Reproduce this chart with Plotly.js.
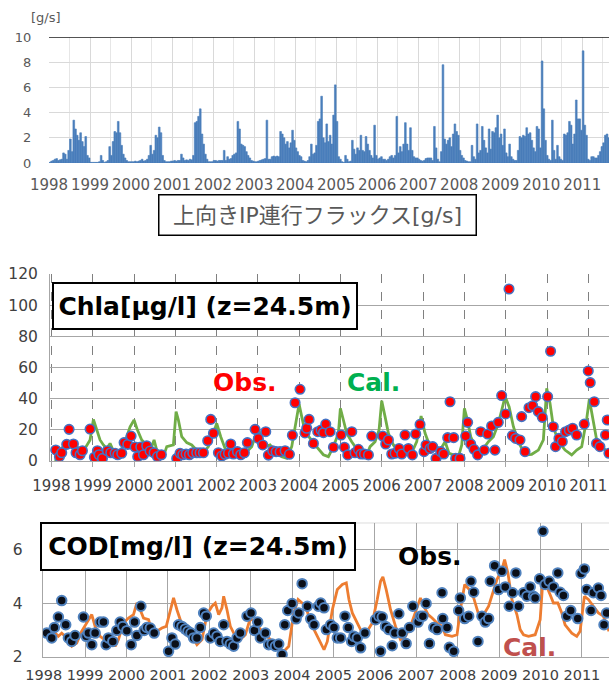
<!DOCTYPE html>
<html><head><meta charset="utf-8">
<script src="https://cdn.plot.ly/plotly-3.0.1.min.js"></script>
<style>html,body{margin:0;padding:0;background:#fff}#chart{width:609px;height:687px}</style>
</head><body><div id="chart"></div>
<script>
// ---------- data ----------
const years = [1998,1999,2000,2001,2002,2003,2004,2005,2006,2007,2008,2009,2010,2011];
const yearLabels = years.map(String);

// upward IP entrainment flux [g/s], half-monthly values per year
const flux1998 = [0.05,0.15,0.2,0.3,0.35,0.2,0.25,0.3,0.8,0.7,0.3,1.0,1.9,0.9,3.4,2.7,2.2,1.8,2.4,1.7,1.3,2.1,0.6,0.4];
const flux1999 = [0.05,0.05,0.05,0.05,0.05,0.1,0.6,0.2,0.05,0.1,0.2,1.3,0.6,1.7,2.5,2.4,3.3,2.4,1.4,0.7,0.4,0.2,0.1,0.1];
const flux2000 = [0.1,0.1,0.15,0.1,0.15,0.2,0.3,0.15,0.2,0.3,0.6,1.4,0.7,1.0,2.2,2.0,2.85,2.4,0.6,0.2,0.1,0.1,0.1,0.15];
const flux2001 = [0.15,0.2,0.15,0.2,0.2,0.7,0.4,0.2,0.25,0.2,0.3,0.25,0.6,3.2,3.3,3.7,4.3,2.3,1.5,0.7,0.3,0.1,0.1,0.1];
const flux2002 = [0.2,0.2,0.15,0.2,0.2,0.2,1.0,0.2,0.5,0.3,0.35,0.6,0.7,0.8,3.3,2.7,1.5,1.4,1.3,0.9,0.6,0.4,0.2,0.15];
const flux2003 = [0.1,0.1,0.15,0.2,0.25,0.3,0.35,3.4,0.3,0.3,0.5,0.55,0.5,0.55,0.5,2.5,2.3,2.0,1.5,1.7,1.2,1.6,2.6,1.8];
const flux2004 = [1.2,0.9,0.6,0.5,0.2,0.15,0.1,0.2,0.5,1.5,0.7,0.8,1.4,3.3,3.5,5.3,2.0,1.6,3.1,1.7,2.2,1.5,3.8,6.2];
const flux2005 = [3.3,0.5,0.3,0.1,0.05,0.6,0.3,0.1,0.15,1.8,1.1,0.7,1.2,1.0,2.2,1.0,0.9,2.1,1.5,1.0,0.6,0.4,3.0,0.6];
const flux2006 = [0.3,0.4,0.5,0.3,0.3,0.2,0.3,0.5,0.6,0.4,0.6,3.7,0.8,1.3,0.9,1.5,3.2,1.5,1.0,2.8,1.0,0.5,0.4,0.4];
const flux2007 = [0.3,0.2,0.15,0.2,0.35,0.4,0.4,0.4,0.2,2.9,1.2,0.3,0.1,0.9,7.8,1.9,1.5,1.8,2.0,1.3,2.3,3.1,2.5,2.2];
const flux2008 = [1.0,0.6,0.4,0.2,0.15,0.1,0.1,1.4,0.5,0.3,3.1,0.8,1.0,2.9,1.8,1.2,0.8,2.7,1.1,2.5,2.4,2.8,3.8,2.0];
const flux2009 = [2.3,1.4,2.7,0.8,0.5,1.5,0.5,0.3,0.2,0.2,1.0,2.1,2.0,2.2,2.1,2.8,2.3,2.4,1.8,1.2,0.9,2.9,2.7,1.2];
const flux2010 = [8.1,4.3,1.8,0.6,0.3,0.2,3.4,1.0,0.3,1.4,0.5,0.3,0.2,2.3,2.2,2.4,3.3,3.0,1.5,2.3,5.0,3.5,3.5,2.6];
const flux2011 = [8.9,3.0,2.2,0.3,0.2,0.5,0.5,0.4,0.4,0.6,0.9,1.3,1.6,2.2,2.3,2.0];

// Chla observed (decimal year, ug/l)
const chlaObsT = [1998.105,1998.194,1998.25,1998.371,1998.428,1998.533,1998.597,1998.694,1998.751,1998.936,
  1999.041,1999.114,1999.154,1999.235,1999.356,1999.437,1999.542,1999.606,1999.703,1999.760,1999.848,1999.929,
  2000.026,2000.090,2000.163,2000.228,2000.308,2000.389,2000.486,2000.567,2000.663,
  2001.035,2001.115,2001.18,2001.261,2001.341,2001.422,2001.519,2001.600,2001.680,2001.785,2001.858,2001.923,
  2002.044,2002.124,2002.205,2002.286,2002.342,2002.407,2002.504,2002.584,2002.673,2002.745,2002.931,
  2003.011,2003.117,2003.19,2003.254,2003.358,2003.44,2003.537,2003.658,2003.763,2003.835,2003.9,2004.02,
  2004.14,2004.182,2004.239,2004.344,2004.449,2004.53,2004.586,2004.643,2004.748,2004.829,
  2005.014,2005.095,2005.176,2005.273,2005.353,2005.434,2005.499,2005.579,2005.676,2005.757,
  2006.023,2006.095,2006.16,2006.241,2006.321,2006.418,2006.483,2006.563,2006.644,2006.741,2006.821,2006.926,
  2007.023,2007.072,2007.168,2007.233,2007.313,2007.426,2007.499,2007.596,2007.652,2007.741,2007.789,2007.894,
  2008.031,2008.079,2008.152,2008.232,2008.321,2008.394,2008.482,2008.563,2008.659,2008.74,2008.821,2008.902,
  2008.999,2009.08,2009.161,2009.241,2009.346,2009.386,2009.467,2009.564,2009.653,2009.725,2009.789,2009.886,
  2010.015,2010.087,2010.152,2010.208,2010.289,2010.37,2010.45,2010.539,2010.62,2010.717,2010.902,
  2010.999,2011.047,2011.144,2011.2,2011.281,2011.418,2011.459,2011.499];
const chlaObsV = [7.1,2.8,5.3,10.7,20.3,10.9,5.3,4,6.6,20.5,
  2.4,6.6,4,1.7,6.6,5.3,5,4,5,11.8,10.7,16,
  9,2.8,9,4,9.8,6.4,5.3,2.8,4,
  1.7,5,4,4.5,4,5.3,5.3,5.3,5.3,13,26.7,17.8,
  5.3,3.2,4.3,5,10.9,4.5,6,4,5.3,11.8,20.3,
  14.5,10.3,18.8,3.8,6.6,6,6,6.6,4.3,16.5,37.4,46,
  18,21,26.7,11.3,18.8,19.9,18.2,23.7,18.8,8.8,
  16.7,8.8,3.9,18.8,5.3,7.5,4.5,4.5,3.9,16,
  16,10.9,13.5,4.5,5,8,4.5,16.7,8,3.9,17.3,23.5,
  6,10.3,8,9.2,1.7,6,4.5,15,38,15,1.7,1.7,
  16,24.8,10.9,7.5,3.9,18.8,7,17.3,22.5,7,24.8,42,
  30.2,110.4,16.3,14.5,13.5,28.5,6,34.2,35.5,41.3,31.7,28,
  41.3,70.4,22,9.2,14.5,12.4,18.8,19.9,21,16.7,23.7,
  57.8,50.3,38,11.3,9.2,16.7,26.3,5];

// Chla calculated
const chlaCalT = [1998.089,1998.17,1998.25,1998.331,1998.412,1998.492,1998.613,1998.734,1998.839,1998.936,
  1999.017,1999.098,1999.178,1999.259,1999.34,1999.42,1999.501,1999.582,1999.663,1999.784,1999.905,
  2000.002,2000.082,2000.187,2000.308,2000.429,2000.486,2000.55,2000.631,2000.712,2000.793,2000.954,
  2001.019,2001.075,2001.156,2001.277,2001.398,2001.479,2001.559,2001.68,2001.801,2001.923,
  2002.003,2002.1,2002.205,2002.326,2002.447,2002.568,2002.729,2002.85,2002.931,
  2003.011,2003.092,2003.174,2003.295,2003.375,2003.456,2003.577,2003.698,2003.819,2003.94,2003.997,
  2004.061,2004.142,2004.384,2004.585,2004.707,2004.828,2004.949,2004.997,
  2005.07,2005.15,2005.271,2005.353,2005.474,2005.635,2005.716,2005.837,2005.934,2005.998,
  2006.079,2006.16,2006.281,2006.402,2006.563,2006.725,2006.846,2006.951,
  2007.048,2007.169,2007.29,2007.411,2007.533,2007.63,2007.735,2007.856,2007.936,
  2008.0,2008.073,2008.154,2008.259,2008.339,2008.46,2008.581,2008.702,2008.823,2008.904,2008.985,
  2009.082,2009.187,2009.308,2009.467,2009.63,2009.791,2009.912,2009.993,
  2010.073,2010.154,2010.275,2010.437,2010.598,2010.719,2010.84,2010.961,
  2011.025,2011.098,2011.203,2011.324,2011.445,2011.501];
const chlaCalV = [0,2.8,8,11,11.3,12.4,9.2,6.6,9.2,13.5,
  26.7,20,13.5,10.3,8,11.3,6.6,5,6,12.4,22,
  26.3,20,13.5,10.3,9.2,13.5,7,6,2.8,9.2,10.3,
  31.7,26.3,15.6,11.8,10.3,8,6,5.3,9.2,17.8,
  24.2,15.6,8,5.3,4.3,5,6,9.2,15.6,
  20,14.5,9.2,10.3,8,5,2.8,1.7,9.2,26.3,36.6,
  28.5,18.8,10.3,4,2.8,9.2,17.8,33.8,
  26.3,17.8,12.4,9.2,6,3.9,9.2,12.4,19.9,38.7,
  28.5,17.8,10.3,6,3.9,5.3,12.4,28.9,
  17.8,9.2,10.3,7,12.4,4.9,3.9,2.8,10.3,
  33.8,26.3,15.6,9.2,7,8,12.4,15.6,24.2,32.7,41.3,
  34.9,22,12.4,3.9,4.3,7,13.5,46.6,
  37,22,12.4,7,3.9,7,9.2,27,
  39.6,28.5,13.5,9.2,6,5];

// COD observed (decimal year, mg/l)
const codObsT = [1998.073,1998.194,1998.258,1998.355,1998.435,1998.532,1998.597,1998.677,1998.758,1998.96,
  1999.024,1999.081,1999.161,1999.242,1999.363,1999.444,1999.508,1999.565,1999.669,1999.766,1999.847,1999.911,
  2000.008,2000.113,2000.194,2000.25,2000.347,2000.427,2000.492,2000.573,2000.669,
  2001.016,2001.097,2001.177,2001.258,2001.339,2001.419,2001.484,2001.556,2001.621,2001.702,2001.782,2001.863,2001.927,
  2002.024,2002.105,2002.185,2002.266,2002.347,2002.427,2002.508,2002.589,2002.669,2002.75,2002.911,
  2003.008,2003.089,2003.169,2003.234,2003.355,2003.435,2003.516,2003.597,2003.677,2003.758,2003.823,2003.895,2004.0,
  2004.097,2004.161,2004.242,
  2004.369,2004.45,2004.53,2004.635,2004.691,2004.771,2004.827,2004.932,
  2005.012,2005.092,2005.173,2005.277,2005.357,2005.438,2005.494,2005.574,2005.655,2005.759,
  2006.016,2006.096,2006.137,2006.177,2006.257,2006.337,2006.418,2006.482,2006.578,2006.659,2006.755,2006.835,2006.916,
  2007.044,2007.1,2007.157,2007.237,2007.317,2007.422,2007.502,2007.622,2007.639,2007.743,2007.799,2007.904,
  2008.024,2008.064,2008.169,2008.265,2008.321,2008.386,2008.49,2008.586,2008.667,2008.747,2008.787,2008.892,
  2008.988,2009.068,2009.149,2009.245,2009.325,2009.406,2009.47,2009.59,2009.671,2009.751,2009.831,2009.871,
  2009.98,2010.06,2010.112,2010.209,2010.313,2010.418,2010.474,2010.554,2010.635,2010.731,2010.9,
  2010.98,2011.06,2011.116,2011.221,2011.277,2011.398,2011.462,2011.534,2011.598];
const codObsV = [2.89,2.71,3.1,3.49,4.1,3.2,2.71,2.58,2.8,3.49,
  2.77,2.89,2.46,2.89,3.3,3.3,2.46,2.71,2.58,2.99,3.3,3.14,
  2.98,2.46,3.3,2.8,3.89,2.99,3.1,3.08,2.89,
  2.21,2.71,2.48,3.2,3.14,3.04,2.96,2.89,2.71,2.71,3.1,3.64,3.52,
  2.71,2.89,2.77,2.58,3.2,2.58,2.48,2.4,2.71,2.89,3.52,
  3.64,2.99,3.3,2.71,2.89,2.46,2.48,2.4,2.48,2.09,3.2,3.73,3.99,
  3.42,3.64,4.73,
  3.89,3.42,3.2,3.89,4.01,3.83,3.02,3.2,
  3.1,2.71,2.71,3.52,3.1,2.58,2.77,2.71,2.34,2.89,
  3.39,3.52,2.21,3.49,3.14,3.02,2.42,2.89,3.61,2.89,2.5,3.1,3.89,
  3.3,3.52,3.52,3.99,2.5,3.1,3.02,4.39,3.43,3.1,2.36,2.21,
  3.73,4.2,3.43,3.52,4.82,4.41,2.58,3.52,3.3,3.43,4.82,5.4,
  4.51,5.19,4.61,3.89,4.39,5.13,3.89,4.39,4.26,4.61,4.26,4.2,
  4.91,6.68,4.7,4.82,4.61,5.13,4.41,4.29,3.52,3.73,3.43,
  5.11,5.28,4.51,3.73,4.39,4.57,4.29,3.2,3.64];

// COD calculated
const codCalT = [1998.073,1998.234,1998.355,1998.435,1998.556,1998.677,1998.798,1998.919,
  1999.04,1999.161,1999.242,1999.363,1999.524,1999.645,1999.726,1999.806,1999.927,
  2000.048,2000.169,2000.25,2000.331,2000.411,2000.532,2000.613,2000.734,2000.855,2000.96,
  2001.056,2001.137,2001.218,2001.339,2001.46,2001.581,2001.702,2001.823,2001.944,
  2002.065,2002.145,2002.226,2002.306,2002.347,2002.427,2002.508,2002.629,2002.75,2002.871,2002.992,
  2003.073,2003.169,2003.315,2003.476,2003.637,2003.798,2003.919,
  2004.04,2004.145,2004.242,2004.329,2004.45,2004.57,2004.691,2004.771,2004.851,2004.972,
  2005.092,2005.213,2005.309,2005.373,2005.454,2005.574,2005.695,2005.815,2005.936,
  2006.056,2006.137,2006.193,2006.273,2006.378,2006.498,2006.618,2006.739,2006.859,2006.98,
  2007.1,2007.181,2007.285,2007.382,2007.502,2007.622,2007.703,2007.863,2007.984,
  2008.064,2008.169,2008.281,2008.386,2008.506,2008.627,2008.747,2008.843,2008.948,
  2009.068,2009.133,2009.213,2009.309,2009.43,2009.51,2009.59,2009.711,2009.871,2009.992,
  2010.056,2010.129,2010.233,2010.313,2010.418,2010.514,2010.594,2010.755,2010.876,2010.956,
  2011.06,2011.157,2011.277,2011.398,2011.518,2011.655];
const codCalV = [2.89,2.96,2.77,2.89,2.71,2.4,2.52,2.96,
  3.27,3.58,3.14,2.77,2.58,2.65,2.4,2.65,3.27,
  3.45,3.58,4.01,3.76,3.45,3.39,2.96,2.96,3.08,3.14,
  3.7,4.2,3.76,3.2,2.96,2.77,2.46,2.65,3.58,
  3.89,4.01,3.58,3.83,4.26,3.76,3.14,2.77,2.65,2.83,3.45,
  3.33,3.14,2.89,2.65,2.4,2.21,2.4,
  3.64,4.14,4.01,3.89,3.27,2.89,2.52,2.27,2.58,3.76,
  4.51,4.7,4.76,4.14,3.64,3.27,2.89,2.96,3.27,
  4.14,4.82,4.98,4.51,3.76,3.14,2.65,2.77,3.14,3.64,
  4.2,3.89,3.58,3.45,3.27,3.14,2.83,2.77,2.83,
  3.76,4.7,4.51,4.2,3.58,3.58,3.89,4.39,4.88,
  5.25,5.63,5.13,4.14,3.58,3.02,2.83,2.77,2.83,3.39,
  4.82,4.7,4.32,4.01,4.01,3.64,3.2,2.89,2.77,2.96,
  4.26,4.14,3.89,3.64,3.52,2.96];

// ---------- build ----------
const W = 609, H = 687;
const px = x => x / W;
const py = y => 1 - y / H;

const fluxByYear = [flux1998,flux1999,flux2000,flux2001,flux2002,flux2003,flux2004,flux2005,flux2006,flux2007,flux2008,flux2009,flux2010,flux2011];
const fluxT = [], fluxV = [];
fluxByYear.forEach((arr, i) => arr.forEach((v, k) => { fluxT.push(years[i] + (k + 0.5) / 24); fluxV.push(v); }));

const FONT = 'DejaVu Sans, Noto Sans CJK JP, sans-serif';

const traces = [
  {type:'bar', x:fluxT, y:fluxV, xaxis:'x', yaxis:'y', width:1/24,
   marker:{color:'#4a7ebb', line:{width:0.6, color:'#4a7ebb'}}, hoverinfo:'skip'},
  {type:'scatter', mode:'lines', x:chlaCalT, y:chlaCalV, xaxis:'x2', yaxis:'y2',
   line:{color:'#70ad47', width:2.8}, hoverinfo:'skip'},
  {type:'scatter', mode:'markers', x:chlaObsT, y:chlaObsV, xaxis:'x2', yaxis:'y2', cliponaxis:true,
   marker:{color:'#ff0000', size:9.5, line:{color:'#4472c4', width:1.6}}, hoverinfo:'skip'},
  {type:'scatter', mode:'lines', x:codCalT, y:codCalV, xaxis:'x3', yaxis:'y3',
   line:{color:'#ed7d31', width:2.8}, hoverinfo:'skip'},
  {type:'scatter', mode:'markers', x:codObsT, y:codObsV, xaxis:'x3', yaxis:'y3', cliponaxis:true,
   marker:{color:'#0b0f18', size:9.5, line:{color:'#4f81bd', width:2}}, hoverinfo:'skip'}
];

const tickFontTop = {family:FONT, size:15, color:'#595959'};
const tickFontDark = {family:FONT, size:15, color:'#404040'};

const layout = {
  width:W, height:H, margin:{l:0,r:0,t:0,b:0},
  paper_bgcolor:'#ffffff', plot_bgcolor:'#ffffff',
  showlegend:false, font:{family:FONT},
  xaxis:{domain:[px(49),1], range:[1998, 1998 + 560/41.02], anchor:'y',
    tickmode:'array', tickvals:years, ticktext:yearLabels, tickfont:tickFontTop,
    ticks:'outside', ticklen:8, tickcolor:'rgba(0,0,0,0)',
    showgrid:true, gridcolor:'#d9d9d9', gridwidth:1,
    minor:{tickmode:'array', tickvals:years.map(y => y + 0.5), showgrid:true, gridcolor:'#e6e6e6', ticks:''},
    zeroline:false, showline:false, fixedrange:true},
  yaxis:{domain:[py(163), py(37)], range:[0,10], anchor:'x',
    tickmode:'array', tickvals:[0,2,4,6,8,10], tickfont:{family:FONT, size:13, color:'#595959'},
    ticks:'outside', ticklen:14, tickcolor:'rgba(0,0,0,0)',
    showgrid:true, gridcolor:'#d9d9d9', zeroline:false, showline:false, fixedrange:true},
  xaxis2:{domain:[px(50),1], range:[1998 - 1.4/41.3, 1998 + (609-51.4)/41.3], anchor:'y2',
    tickmode:'array', tickvals:years, ticktext:yearLabels, tickfont:tickFontDark,
    ticks:'outside', ticklen:5, tickcolor:'#a6a6a6', ticklabelstandoff:6,
    showgrid:true, gridcolor:'#808080', griddash:'dash', gridwidth:1,
    showline:true, linecolor:'#a6a6a6', linewidth:1, zeroline:false, fixedrange:true},
  yaxis2:{domain:[py(461), py(274)], range:[0,120], anchor:'x2',
    tickmode:'array', tickvals:[0,20,40,60,80,100,120], tickfont:{family:FONT, size:15.5, color:'#404040'},
    ticks:'outside', ticklen:8, tickcolor:'rgba(0,0,0,0)',
    showgrid:true, gridcolor:'#a6a6a6', zeroline:false, showline:true, linecolor:'#a6a6a6', fixedrange:true},
  xaxis3:{domain:[px(42.7),1], range:[1998 - 1/41.4, 1998 + (609-43.7)/41.4], anchor:'y3',
    tickmode:'array', tickvals:years, ticktext:yearLabels, tickfont:{family:FONT, size:14.5, color:'#404040'},
    ticks:'outside', ticklen:5, tickcolor:'rgba(0,0,0,0)',
    showgrid:true, gridcolor:'#a6a6a6', gridwidth:1,
    showline:true, linecolor:'#a6a6a6', zeroline:false, fixedrange:true},
  yaxis3:{domain:[py(657), py(522.7)], range:[2,7], anchor:'x3',
    tickmode:'array', tickvals:[2,4,6], tickfont:{family:FONT, size:15.5, color:'#404040'},
    ticks:'outside', ticklen:16, tickcolor:'rgba(0,0,0,0)',
    showgrid:true, gridcolor:'#a6a6a6', zeroline:false, showline:true, linecolor:'#a6a6a6', fixedrange:true},
  shapes:[
    {type:'line', xref:'paper', yref:'y', x0:px(49), x1:1, y0:10, y1:10, line:{color:'#1a1a1a', width:1.5}},
    {type:'line', xref:'paper', yref:'y3', x0:px(42.7), x1:1, y0:7, y1:7, line:{color:'#a6a6a6', width:1}}
  ],
  annotations:[
    {xref:'paper', yref:'paper', x:px(46), y:py(17), xanchor:'center', yanchor:'middle', showarrow:false,
     text:'[g/s]', font:{family:FONT, size:13, color:'#595959'}},
    {xref:'paper', yref:'paper', x:px(317), y:py(214.5), xanchor:'center', yanchor:'middle', showarrow:false,
     text:'上向きIP連行フラックス[g/s]', font:{family:FONT, size:22, color:'#595959'},
     width:314, height:37, bgcolor:'#ffffff', bordercolor:'#000000', borderwidth:1.5, borderpad:1},
    {xref:'paper', yref:'paper', x:px(205), y:py(306), xanchor:'center', yanchor:'middle', showarrow:false,
     text:'<b>Chla[µg/l] (z=24.5m)</b>', font:{family:FONT, size:25, color:'#000000'},
     width:300, height:42, bgcolor:'#ffffff', bordercolor:'#000000', borderwidth:2, borderpad:1},
    {xref:'paper', yref:'paper', x:px(245), y:py(382), xanchor:'center', yanchor:'middle', showarrow:false,
     text:'<b>Obs.</b>', font:{family:FONT, size:25, color:'#ff0000'}},
    {xref:'paper', yref:'paper', x:px(373), y:py(382), xanchor:'center', yanchor:'middle', showarrow:false,
     text:'<b>Cal.</b>', font:{family:FONT, size:25, color:'#00b050'}},
    {xref:'paper', yref:'paper', x:px(198), y:py(546.5), xanchor:'center', yanchor:'middle', showarrow:false,
     text:'<b>COD[mg/l] (z=24.5m)</b>', font:{family:FONT, size:25, color:'#000000'},
     width:310, height:43, bgcolor:'#ffffff', bordercolor:'#000000', borderwidth:2, borderpad:1},
    {xref:'paper', yref:'paper', x:px(430), y:py(556), xanchor:'center', yanchor:'middle', showarrow:false,
     text:'<b>Obs.</b>', font:{family:FONT, size:25, color:'#000000'}},
    {xref:'paper', yref:'paper', x:px(529), y:py(647.5), xanchor:'center', yanchor:'middle', showarrow:false,
     text:'<b>Cal.</b>', font:{family:FONT, size:25, color:'#c0504d'}}
  ]
};

Plotly.newPlot('chart', traces, layout, {staticPlot:true, displayModeBar:false});
</script>
</body></html>
